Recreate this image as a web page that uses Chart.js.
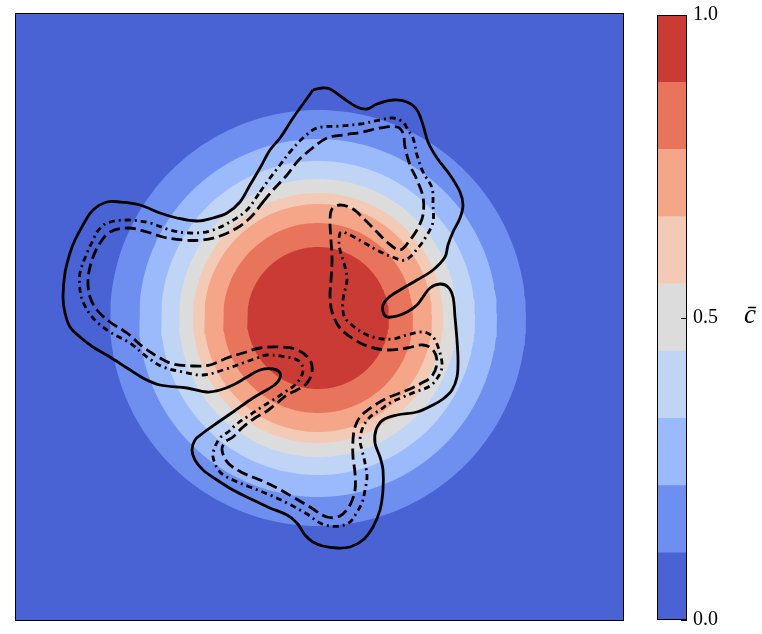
<!DOCTYPE html>
<html><head><meta charset="utf-8">
<script src="https://cdn.jsdelivr.net/npm/chart.js@4/dist/chart.umd.min.js"></script>
<style>
html,body{margin:0;padding:0;background:#fff;}
#wrap{position:relative;width:762px;height:634px;}
canvas{position:absolute;top:0;}
</style></head><body>
<div id="wrap">
<canvas id="field" width="762" height="634" style="left:0"></canvas>
<canvas id="cbar" width="122" height="634" style="left:640px"></canvas>
</div>
<script>
// Filled-contour levels of the mean progress variable c̄ (nine bands)
const levels = [0, 1/9, 2/9, 3/9, 4/9, 5/9, 6/9, 7/9, 8/9, 1];
const bandColors = ['#4a63d4', '#6e8ff0', '#9bbafc', '#c0d4f5', '#dcdcdc',
                    '#f2cab6', '#f5a688', '#e8755b', '#c93b34'];
// Radius (domain units) at which c̄ crosses levels 1/9 ... 8/9
const levelRadii = [208, 179, 157, 139, 125, 114, 95, 71];
const cbarTicks = [0, 0.5, 1];

// Iso-lines of the instantaneous progress variable, domain coordinates
const solidIso = [[-5,228],[4,230],[12,229],[25,220],[39,211],[49,209],[59,214],[75,218],[89,216],[99,208],[105,193],[110,176],[119,160],[132,143],[142,126],[145,113],[142,100],[135,86],[130,73],[127,61],[115,48],[99,38],[82,28],[70,20],[65,13],[65,6],[69,1],[79,2],[89,6],[99,13],[105,21],[112,30],[122,34],[130,31],[135,21],[137,1],[139,-22],[140,-42],[139,-59],[134,-72],[125,-81],[115,-87],[99,-94],[79,-97],[65,-102],[58,-112],[57,-125],[62,-139],[65,-152],[65,-172],[62,-192],[55,-209],[45,-222],[32,-229],[19,-230],[5,-228],[-5,-224],[-13,-217],[-21,-205],[-31,-197],[-48,-190],[-65,-182],[-85,-172],[-101,-162],[-115,-152],[-123,-142],[-126,-132],[-123,-122],[-115,-115],[-101,-105],[-85,-94],[-68,-82],[-55,-74],[-45,-68],[-39,-62],[-38,-55],[-45,-51],[-58,-52],[-71,-59],[-85,-67],[-98,-72],[-111,-74],[-131,-70],[-158,-67],[-175,-60],[-191,-50],[-208,-39],[-225,-29],[-238,-19],[-248,-9],[-253,5],[-255,21],[-253,45],[-248,65],[-243,78],[-235,93],[-225,108],[-211,116],[-198,116],[-178,113],[-158,105],[-141,100],[-121,97],[-105,100],[-91,105],[-78,116],[-68,133],[-58,150],[-48,168],[-38,180],[-25,200],[-15,214],[-5,228]];

const dashedIso = [[-55,116],[-45,128],[-31,143],[-21,156],[-8,168],[9,180],[25,183],[45,186],[62,190],[79,191],[85,185],[87,171],[92,153],[99,138],[105,121],[105,103],[100,90],[92,78],[82,68],[69,76],[59,86],[45,100],[35,109],[22,113],[14,109],[12,98],[13,78],[14,58],[13,38],[12,22],[14,6],[22,-10],[37,-22],[52,-29],[69,-32],[89,-30],[105,-27],[115,-32],[119,-44],[114,-58],[102,-66],[92,-71],[82,-75],[69,-80],[54,-89],[42,-99],[37,-109],[35,-122],[35,-139],[37,-155],[37,-172],[32,-187],[22,-198],[9,-199],[-8,-189],[-25,-179],[-41,-170],[-58,-162],[-75,-155],[-90,-145],[-96,-132],[-93,-124],[-85,-119],[-75,-109],[-63,-100],[-51,-93],[-41,-85],[-31,-77],[-21,-72],[-11,-65],[-6,-54],[-8,-42],[-20,-32],[-38,-29],[-58,-30],[-75,-35],[-91,-40],[-108,-47],[-125,-48],[-145,-46],[-158,-40],[-175,-29],[-191,-15],[-208,-4],[-221,8],[-228,21],[-230,38],[-226,58],[-218,75],[-208,86],[-190,90],[-171,86],[-155,81],[-135,78],[-115,78],[-98,82],[-81,90],[-68,100],[-55,116]];

const dashDotIso = [[-58,126],[-48,140],[-38,153],[-28,166],[-15,180],[-1,190],[22,192],[42,194],[62,198],[75,200],[85,196],[90,188],[95,180],[99,163],[105,146],[114,130],[115,113],[115,96],[109,83],[100,70],[87,58],[72,62],[57,69],[45,76],[32,83],[23,86],[21,78],[22,68],[27,51],[29,38],[25,18],[26,2],[34,-7],[45,-15],[59,-20],[75,-21],[89,-17],[105,-14],[115,-19],[122,-35],[124,-49],[120,-59],[112,-68],[97,-74],[85,-79],[72,-85],[62,-92],[52,-99],[45,-109],[42,-122],[44,-132],[47,-145],[49,-159],[47,-172],[44,-185],[39,-194],[32,-204],[22,-208],[12,-208],[2,-205],[-11,-196],[-31,-185],[-48,-177],[-68,-169],[-85,-162],[-98,-154],[-105,-139],[-103,-129],[-98,-120],[-90,-114],[-80,-105],[-68,-97],[-58,-90],[-45,-82],[-33,-74],[-23,-67],[-17,-59],[-15,-51],[-19,-43],[-31,-39],[-51,-37],[-61,-40],[-75,-45],[-95,-52],[-115,-57],[-135,-54],[-155,-49],[-171,-39],[-188,-25],[-208,-14],[-225,0],[-235,16],[-238,28],[-238,45],[-231,65],[-225,78],[-221,86],[-211,95],[-190,98],[-168,95],[-148,88],[-128,85],[-108,87],[-88,96],[-71,108],[-58,126]];

const toPts = arr => arr.map(([x, y]) => ({x, y}));

// closed level curve of the radially symmetric mean field
function levelCircle(r) {
  const pts = [];
  for (let k = 0; k <= 360; k += 1.5) {
    const a = k * Math.PI / 180;
    pts.push({x: r * Math.cos(a), y: r * Math.sin(a)});
  }
  return pts;
}

const bandSets = levelRadii.map((r, i) => ({
  data: levelCircle(r),
  showLine: true, fill: 'shape', tension: 0,
  backgroundColor: bandColors[i + 1],
  borderColor: 'rgba(0,0,0,0)', borderWidth: 0,
  pointRadius: 0, order: 100 - i
}));

const isoStyle = {showLine: true, fill: false, tension: 0.35, borderColor: '#000',
  borderWidth: 2.8, pointRadius: 0, order: 0, borderCapStyle: 'butt', borderJoinStyle: 'round'};

const frame = {
  id: 'frame',
  beforeDatasetsDraw(chart) {
    const {ctx, chartArea: a} = chart;
    ctx.save();
    ctx.fillStyle = bandColors[0];
    ctx.fillRect(a.left, a.top, a.right - a.left, a.bottom - a.top);
    ctx.restore();
  },
  afterDraw(chart) {
    const {ctx, chartArea: a} = chart;
    ctx.save();
    ctx.strokeStyle = '#000';
    ctx.lineWidth = 1;
    ctx.strokeRect(a.left + 0.5, a.top + 0.5, a.right - a.left - 1, a.bottom - a.top - 1);
    ctx.restore();
  }
};

new Chart(document.getElementById('field'), {
  type: 'scatter',
  data: {datasets: [
    Object.assign({data: toPts(solidIso)}, isoStyle),
    Object.assign({data: toPts(dashedIso), borderDash: [11, 5]}, isoStyle),
    Object.assign({data: toPts(dashDotIso), borderDash: [6, 4, 2, 4]}, isoStyle),
    ...bandSets
  ]},
  options: {
    responsive: false, animation: false,
    layout: {padding: {left: 15, top: 13, right: 138, bottom: 13}},
    plugins: {legend: {display: false}, tooltip: {enabled: false}},
    scales: {
      x: {type: 'linear', min: -303, max: 306, display: false},
      y: {type: 'linear', min: -303, max: 305, display: false}
    }
  },
  plugins: [frame]
});

// Colour bar
const cbarFrame = {
  id: 'cbarFrame',
  afterDraw(chart) {
    const {ctx, chartArea: a} = chart;
    const ys = chart.scales.y;
    ctx.save();
    ctx.strokeStyle = '#000';
    ctx.lineWidth = 1;
    ctx.strokeRect(a.left + 0.5, a.top + 0.5, a.right - a.left - 1, a.bottom - a.top - 1);
    cbarTicks.forEach(v => {
      const y = Math.round(ys.getPixelForValue(v)) + 0.5;
      ctx.beginPath();
      ctx.moveTo(a.right - 6, y);
      ctx.lineTo(a.right, y);
      ctx.stroke();
    });
    ctx.fillStyle = '#000';
    ctx.font = 'italic 27px "Liberation Serif", serif';
    ctx.textAlign = 'center';
    ctx.textBaseline = 'middle';
    ctx.fillText('c\u0304', 110, 316);
    ctx.restore();
  }
};

new Chart(document.getElementById('cbar'), {
  type: 'bar',
  data: {
    labels: ['c'],
    datasets: bandColors.map((c, i) => ({
      data: [levels[i + 1] - levels[i]],
      backgroundColor: c, borderWidth: 0,
      barPercentage: 1, categoryPercentage: 1
    }))
  },
  options: {
    responsive: false, animation: false,
    layout: {padding: {left: 17, top: 15, right: 0, bottom: 14}},
    plugins: {legend: {display: false}, tooltip: {enabled: false}},
    scales: {
      x: {stacked: true, display: false},
      y: {
        stacked: true, position: 'right', min: 0, max: 1,
        grid: {display: false, drawTicks: false},
        border: {display: false},
        afterBuildTicks: s => { s.ticks = cbarTicks.map(v => ({value: v})); },
        afterFit: s => { s.width = 75; s.paddingTop = 0; s.paddingBottom = 0; },
        ticks: {
          padding: 6, color: '#000',
          font: {family: '"Liberation Serif", serif', size: 20},
          callback: v => Number(v).toFixed(1)
        }
      }
    }
  },
  plugins: [cbarFrame]
});
</script>
</body></html>
